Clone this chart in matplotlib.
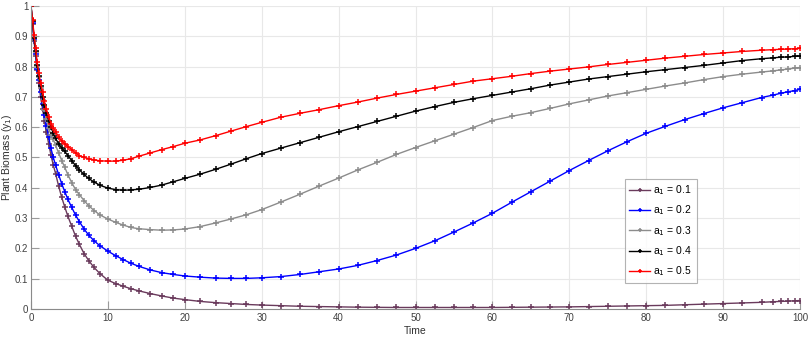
import numpy as np
import matplotlib
matplotlib.use("Agg")
import matplotlib.pyplot as plt

plt.rcParams['font.family'] = ['Liberation Sans', 'DejaVu Sans']

# time points (shared by all runs)
t = [0, 0.2, 0.4, 0.6, 0.8, 1.0, 1.25, 1.5, 1.75, 2.0,
     2.3, 2.6, 2.9, 3.2, 3.6, 4.0, 4.4, 4.8, 5.3, 5.8,
     6.3, 6.9, 7.5, 8.2, 9.0, 10, 11, 12, 13, 14,
     15.5, 17, 18.5, 20, 22, 24, 26, 28, 30, 32.5,
     35, 37.5, 40, 42.5, 45, 47.5, 50, 52.5, 55, 57.5,
     60, 62.5, 65, 67.5, 70, 72.5, 75, 77.5, 80, 82.5,
     85, 87.5, 90, 92.5, 95, 96.5, 97.5, 98.5, 99.3, 100]

# plant biomass y1 for a1 = 0.1 ... 0.5
y_a01 = [1.0, 0.94, 0.885, 0.835, 0.788, 0.745, 0.70, 0.66, 0.622, 0.585,
         0.545, 0.507, 0.475, 0.447, 0.405, 0.368, 0.336, 0.306, 0.273, 0.24,
         0.213, 0.183, 0.16, 0.137, 0.116, 0.095, 0.084, 0.075, 0.067, 0.06,
         0.051, 0.043, 0.036, 0.031, 0.025, 0.021, 0.018, 0.015, 0.013, 0.011,
         0.009, 0.008, 0.007, 0.006, 0.0055, 0.005, 0.005, 0.005, 0.005, 0.005,
         0.005, 0.0055, 0.006, 0.0065, 0.007, 0.008, 0.009, 0.010, 0.011, 0.012,
         0.014, 0.016, 0.018, 0.020, 0.022, 0.024, 0.025, 0.026, 0.027, 0.028]
y_a02 = [1.0, 0.945, 0.89, 0.84, 0.792, 0.755, 0.715, 0.675, 0.64, 0.605,
         0.567, 0.53, 0.50, 0.475, 0.443, 0.413, 0.387, 0.362, 0.335, 0.31,
         0.288, 0.264, 0.244, 0.225, 0.208, 0.191, 0.176, 0.163, 0.151, 0.141,
         0.129, 0.12, 0.114, 0.109, 0.105, 0.102, 0.101, 0.101, 0.103, 0.107,
         0.114, 0.123, 0.132, 0.144, 0.16, 0.178, 0.20, 0.225, 0.254, 0.284,
         0.316, 0.352, 0.387, 0.422, 0.457, 0.49, 0.522, 0.552, 0.58, 0.603,
         0.625, 0.645, 0.664, 0.681, 0.698, 0.706, 0.712, 0.717, 0.721, 0.725]
y_a03 = [1.0, 0.95, 0.895, 0.848, 0.803, 0.765, 0.728, 0.69, 0.657, 0.627,
         0.597, 0.575, 0.56, 0.54, 0.515, 0.49, 0.467, 0.443, 0.417, 0.394,
         0.377, 0.358, 0.341, 0.325, 0.31, 0.297, 0.286, 0.277, 0.269, 0.265,
         0.262, 0.26, 0.261, 0.264, 0.272, 0.284, 0.297, 0.311, 0.328, 0.353,
         0.379, 0.406, 0.432, 0.459, 0.484, 0.51, 0.533, 0.555, 0.577, 0.599,
         0.622, 0.636, 0.648, 0.662, 0.677, 0.69, 0.703, 0.714, 0.725, 0.736,
         0.746, 0.757, 0.767, 0.775, 0.782, 0.786, 0.789, 0.792, 0.795, 0.797]
y_a04 = [1.0, 0.95, 0.895, 0.85, 0.805, 0.77, 0.735, 0.70, 0.672, 0.647,
         0.622, 0.60, 0.58, 0.563, 0.545, 0.532, 0.52, 0.506, 0.49, 0.473,
         0.459, 0.444, 0.431, 0.419, 0.408, 0.399, 0.394, 0.392, 0.393, 0.395,
         0.401, 0.409, 0.42, 0.431, 0.445, 0.461, 0.478, 0.496, 0.513, 0.531,
         0.549, 0.567, 0.585, 0.602, 0.619, 0.636, 0.653, 0.668, 0.682, 0.694,
         0.705, 0.716, 0.727, 0.739, 0.749, 0.759, 0.767, 0.775, 0.783, 0.79,
         0.797, 0.804, 0.812, 0.82, 0.826, 0.829, 0.831, 0.832, 0.834, 0.835]
y_a05 = [1.0, 0.955, 0.905, 0.86, 0.815, 0.78, 0.745, 0.715, 0.685, 0.66,
         0.635, 0.612, 0.598, 0.585, 0.568, 0.555, 0.545, 0.536, 0.526, 0.515,
         0.506, 0.50, 0.496, 0.492, 0.489, 0.488, 0.488, 0.491, 0.496, 0.504,
         0.515, 0.526, 0.536, 0.547, 0.558, 0.572, 0.587, 0.602, 0.616, 0.633,
         0.646, 0.658, 0.671, 0.683, 0.696, 0.708, 0.719, 0.73, 0.741, 0.752,
         0.76, 0.768, 0.777, 0.785, 0.792, 0.799, 0.807, 0.814, 0.821, 0.828,
         0.834, 0.84, 0.845, 0.85, 0.854, 0.856, 0.857, 0.858, 0.859, 0.86]

series = [y_a01, y_a02, y_a03, y_a04, y_a05]
labels = ["a$_1$ = 0.1", "a$_1$ = 0.2", "a$_1$ = 0.3", "a$_1$ = 0.4", "a$_1$ = 0.5"]
colors = ["#6a3a5c", "#0000ff", "#8c8c8c", "#000000", "#ff0000"]

fig = plt.figure(figsize=(8.09, 3.39), dpi=100)
ax = fig.add_axes([0.0383, 0.0885, 0.9506, 0.8938])

for y, lab, c in zip(series, labels, colors):
    ax.plot(t, y, "-", marker="+", color=c, linewidth=1.0,
            markersize=3.8, markeredgewidth=1.1, label=lab)

ax.set_xlim(0, 100)
ax.set_ylim(0, 1)
ax.set_xticks(range(0, 101, 10))
ax.set_yticks(np.arange(0, 1.01, 0.1))
ax.set_yticklabels(["0", "0.1", "0.2", "0.3", "0.4", "0.5", "0.6", "0.7", "0.8", "0.9", "1"])
ax.grid(True, color="#e8e8e8", linewidth=0.8)
ax.set_axisbelow(True)
for s in ["top", "right"]:
    ax.spines[s].set_visible(False)
for s in ["left", "bottom"]:
    ax.spines[s].set_color("#8a8a8a")
    ax.spines[s].set_linewidth(0.8)
ax.tick_params(direction="in", length=6, width=0.8, color="#9a9a9a",
               labelsize=7, labelcolor="#404040", pad=3)
ax.tick_params(axis="y", pad=2)

ax.set_xlabel("Time", fontsize=7.5, color="#303030", labelpad=2)
ax.set_ylabel("Plant Biomass (y$_1$)", fontsize=7.5, color="#303030")
ax.yaxis.set_label_coords(-0.0215, 0.5)

leg = ax.legend(loc="lower left", bbox_to_anchor=(0.772, 0.086), borderaxespad=0,
                fontsize=7.5, frameon=True, fancybox=False, handlelength=2.0,
                handletextpad=0.3, borderpad=0.45, labelspacing=0.62, markerscale=0.6)
leg.get_frame().set_edgecolor("#a0a0a0")
leg.get_frame().set_linewidth(0.8)

plt.savefig("out.png", dpi=100)
